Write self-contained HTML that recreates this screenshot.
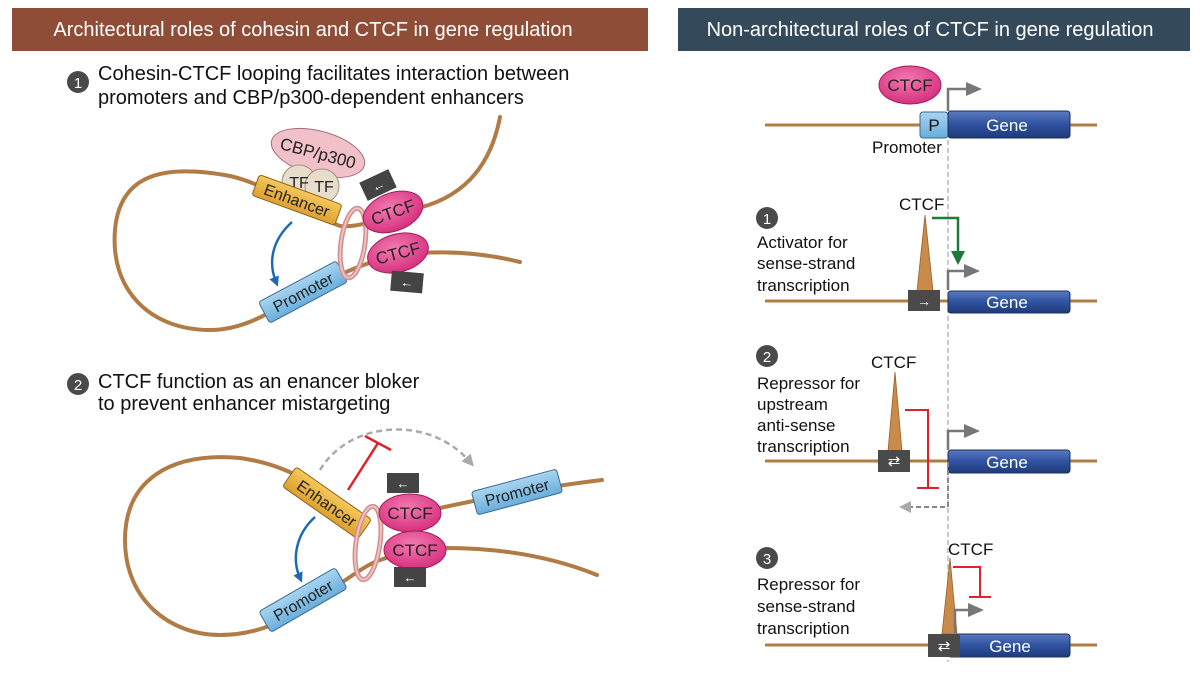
<!DOCTYPE html>
<html><head><meta charset="utf-8"><style>
html,body{margin:0;padding:0;background:#fff;}
svg{display:block;font-family:"Liberation Sans",Arial,sans-serif;}
</style></head><body>
<svg width="1200" height="678" viewBox="0 0 1200 678" xmlns="http://www.w3.org/2000/svg">
<defs>
<linearGradient id="gene" x1="0" y1="0" x2="0" y2="1"><stop offset="0" stop-color="#5a7ac0"/><stop offset="0.5" stop-color="#2f52a0"/><stop offset="1" stop-color="#1f3a78"/></linearGradient>
<radialGradient id="ctcf" cx="0.45" cy="0.35" r="0.7"><stop offset="0" stop-color="#f27ab0"/><stop offset="1" stop-color="#d42a7a"/></radialGradient>
<linearGradient id="enh" x1="0" y1="0" x2="0" y2="1"><stop offset="0" stop-color="#f6c85a"/><stop offset="1" stop-color="#dca030"/></linearGradient>
<linearGradient id="pro" x1="0" y1="0" x2="0" y2="1"><stop offset="0" stop-color="#a8d4f0"/><stop offset="1" stop-color="#6aaedc"/></linearGradient>
<marker id="ab" markerWidth="10" markerHeight="10" refX="5" refY="5" orient="auto" markerUnits="userSpaceOnUse"><path d="M0,0 L10,5 L0,10 Z" fill="#1a6ab8"/></marker>
<marker id="agr" markerWidth="14" markerHeight="14" refX="7" refY="7" orient="auto" markerUnits="userSpaceOnUse"><path d="M0,0 L14,7 L0,14 Z" fill="#1d7a3a"/></marker>
<marker id="agray" markerWidth="16" markerHeight="14" refX="4" refY="7" orient="auto" markerUnits="userSpaceOnUse"><path d="M0,0 L16,7 L0,14 Z" fill="#777"/></marker>
<marker id="agl" markerWidth="12" markerHeight="12" refX="6" refY="6" orient="auto" markerUnits="userSpaceOnUse"><path d="M0,0 L12,6 L0,12 Z" fill="#aaa"/></marker>
</defs>

<rect x="12" y="8" width="636" height="43" fill="#8f4c36"/>
<text x="313" y="36" font-size="20" fill="#fff" text-anchor="middle">Architectural roles of cohesin and CTCF in gene regulation</text>
<rect x="678" y="8" width="512" height="43" fill="#34495a"/>
<text x="930" y="36" font-size="20" fill="#fff" text-anchor="middle">Non-architectural roles of CTCF in gene regulation</text>

<circle cx="78" cy="82" r="11" fill="#4a4a4a"/><text x="78" y="88" font-size="15" fill="#fff" text-anchor="middle">1</text>
<text x="98" y="80" font-size="20" fill="#111">Cohesin-CTCF looping facilitates interaction between</text>
<text x="98" y="104" font-size="20" fill="#111">promoters and CBP/p300-dependent enhancers</text>

<g fill="none" stroke="#b07b45" stroke-width="4" stroke-linecap="round">
<path d="M500,117 C490,170 460,200 410,210 C380,218 360,228 340,226 C310,215 270,185 230,176 C170,165 120,170 115,230 C110,290 150,330 210,330 C250,330 280,305 320,285 C345,272 365,262 400,255 C440,250 480,252 520,262"/>
</g>
<ellipse cx="318" cy="153" rx="48" ry="22" transform="rotate(15 318 153)" fill="#f2c0c8" stroke="#a07080" stroke-width="1"/>
<text x="318" y="159" font-size="17" text-anchor="middle" transform="rotate(15 318 153)" fill="#222">CBP/p300</text>
<circle cx="299" cy="182" r="17" fill="#e8dccb" stroke="#a09080"/>
<circle cx="322" cy="186" r="17" fill="#e8dccb" stroke="#a09080"/>
<text x="299" y="188" font-size="16" text-anchor="middle" fill="#222">TF</text>
<text x="324" y="192" font-size="16" text-anchor="middle" fill="#222">TF</text>
<g transform="rotate(20 297 200)"><rect x="253" y="189" width="88" height="22" rx="3" fill="url(#enh)" stroke="#8a6420"/><text x="297" y="206" font-size="16" text-anchor="middle" fill="#222">Enhancer</text></g>
<g transform="rotate(-28 303 292)"><rect x="259" y="280" width="88" height="24" rx="3" fill="url(#pro)" stroke="#3a6a90"/><text x="303" y="298" font-size="16" text-anchor="middle" fill="#222">Promoter</text></g>
<path d="M292,222 C272,240 268,262 276,282" fill="none" stroke="#1a6ab8" stroke-width="2.5" marker-end="url(#ab)"/>
<ellipse cx="353" cy="243" rx="12" ry="35" transform="rotate(8 353 243)" fill="none" stroke="#d09090" stroke-width="5"/>
<ellipse cx="353" cy="243" rx="12" ry="35" transform="rotate(8 353 243)" fill="none" stroke="#f0c0c0" stroke-width="2"/>
<ellipse cx="393" cy="212" rx="31" ry="19" transform="rotate(-20 393 212)" fill="url(#ctcf)" stroke="#a0205a"/>
<text x="393" y="218" font-size="17" text-anchor="middle" transform="rotate(-20 393 212)" fill="#222">CTCF</text>
<ellipse cx="398" cy="253" rx="31" ry="19" transform="rotate(-15 398 253)" fill="url(#ctcf)" stroke="#a0205a"/>
<text x="398" y="259" font-size="17" text-anchor="middle" transform="rotate(-15 398 253)" fill="#222">CTCF</text>
<g transform="rotate(-25 378 185)"><rect x="362" y="175" width="32" height="20" fill="#444"/><text x="378" y="190" font-size="13" fill="#fff" text-anchor="middle">←</text></g>
<g transform="rotate(5 407 282)"><rect x="391" y="272" width="32" height="20" fill="#444"/><text x="407" y="287" font-size="13" fill="#fff" text-anchor="middle">←</text></g>

<circle cx="78" cy="384" r="11" fill="#4a4a4a"/><text x="78" y="390" font-size="15" fill="#fff" text-anchor="middle">2</text>
<text x="98" y="388" font-size="20" fill="#111">CTCF function as an enancer bloker</text>
<text x="98" y="410" font-size="20" fill="#111">to prevent enhancer mistargeting</text>

<g fill="none" stroke="#b07b45" stroke-width="4" stroke-linecap="round">
<path d="M355,525 C330,490 290,465 240,458 C170,452 125,480 125,540 C125,600 170,635 220,635 C270,635 300,610 330,590 C350,578 365,565 380,560 C400,553 420,550 445,548 C510,548 560,560 597,575"/>
<path d="M440,508 C500,495 560,485 602,480"/>
</g>
<path d="M320,470 C350,420 430,415 470,462" fill="none" stroke="#aaa" stroke-width="2.5" stroke-dasharray="6,4" marker-end="url(#agl)"/>
<line x1="348" y1="490" x2="378" y2="443" stroke="#e0202a" stroke-width="2.5"/>
<line x1="365" y1="436" x2="391" y2="450" stroke="#e0202a" stroke-width="2.5"/>
<g transform="rotate(35 327 503)"><rect x="281" y="491" width="92" height="24" rx="3" fill="url(#enh)" stroke="#8a6420"/><text x="327" y="509" font-size="16" text-anchor="middle" fill="#222">Enhancer</text></g>
<g transform="rotate(-30 303 600)"><rect x="259" y="588" width="88" height="24" rx="3" fill="url(#pro)" stroke="#3a6a90"/><text x="303" y="606" font-size="16" text-anchor="middle" fill="#222">Promoter</text></g>
<g transform="rotate(-15 517 492)"><rect x="473" y="480" width="88" height="24" rx="3" fill="url(#pro)" stroke="#3a6a90"/><text x="517" y="498" font-size="16" text-anchor="middle" fill="#222">Promoter</text></g>
<path d="M315,517 C295,535 292,560 300,578" fill="none" stroke="#1a6ab8" stroke-width="2.5" marker-end="url(#ab)"/>
<ellipse cx="368" cy="543" rx="12" ry="37" transform="rotate(8 368 543)" fill="none" stroke="#d09090" stroke-width="5"/>
<ellipse cx="368" cy="543" rx="12" ry="37" transform="rotate(8 368 543)" fill="none" stroke="#f0c0c0" stroke-width="2"/>
<ellipse cx="410" cy="513" rx="31" ry="19" fill="url(#ctcf)" stroke="#a0205a"/>
<text x="410" y="519" font-size="17" text-anchor="middle" fill="#222">CTCF</text>
<ellipse cx="415" cy="550" rx="31" ry="19" fill="url(#ctcf)" stroke="#a0205a"/>
<text x="415" y="556" font-size="17" text-anchor="middle" fill="#222">CTCF</text>
<rect x="387" y="473" width="32" height="20" fill="#444"/><text x="403" y="488" font-size="13" fill="#fff" text-anchor="middle">←</text>
<rect x="394" y="567" width="32" height="20" fill="#444"/><text x="410" y="582" font-size="13" fill="#fff" text-anchor="middle">←</text>

<line x1="948" y1="140" x2="948" y2="662" stroke="#aaa" stroke-width="1.2" stroke-dasharray="5,3"/>

<line x1="765" y1="125" x2="1097" y2="125" stroke="#b07b45" stroke-width="3"/>
<ellipse cx="910" cy="85" rx="31" ry="19" fill="url(#ctcf)" stroke="#a0205a"/>
<text x="910" y="91" font-size="17" text-anchor="middle" fill="#222">CTCF</text>
<rect x="920" y="112" width="28" height="26" rx="3" fill="url(#pro)" stroke="#3a6a90"/>
<text x="934" y="131" font-size="17" text-anchor="middle" fill="#111">P</text>
<rect x="948" y="111" width="122" height="27" rx="3" fill="url(#gene)" stroke="#1a2f60"/>
<text x="1007" y="131" font-size="17" text-anchor="middle" fill="#fff">Gene</text>
<path d="M948,111 L948,89 L970,89" fill="none" stroke="#777" stroke-width="2.5" marker-end="url(#agray)"/>
<text x="872" y="153" font-size="17" fill="#111">Promoter</text>

<circle cx="767" cy="218" r="11" fill="#4a4a4a"/><text x="767" y="224" font-size="15" fill="#fff" text-anchor="middle">1</text>
<text x="899" y="210" font-size="17" fill="#111">CTCF</text>
<text x="757" y="248" font-size="17" fill="#111">Activator for</text>
<text x="757" y="269" font-size="17" fill="#111">sense-strand</text>
<text x="757" y="291" font-size="17" fill="#111">transcription</text>
<line x1="765" y1="301" x2="1097" y2="301" stroke="#b07b45" stroke-width="3"/>
<polygon points="917,291 933,291 925,215" fill="#c98a4a" stroke="#9a6030" stroke-width="0.8"/>
<rect x="908" y="290" width="32" height="21" fill="#4a4a4a"/><text x="924" y="306" font-size="14" fill="#fff" text-anchor="middle">→</text>
<rect x="948" y="291" width="122" height="22" rx="3" fill="url(#gene)" stroke="#1a2f60"/>
<text x="1007" y="308" font-size="17" text-anchor="middle" fill="#fff">Gene</text>
<path d="M932,218 L958,218 L958,258" fill="none" stroke="#1d7a3a" stroke-width="2.5" marker-end="url(#agr)"/>
<path d="M948,290 L948,271 L968,271" fill="none" stroke="#777" stroke-width="2.5" marker-end="url(#agray)"/>

<circle cx="767" cy="356" r="11" fill="#4a4a4a"/><text x="767" y="362" font-size="15" fill="#fff" text-anchor="middle">2</text>
<text x="871" y="368" font-size="17" fill="#111">CTCF</text>
<text x="757" y="389" font-size="17" fill="#111">Repressor for</text>
<text x="757" y="410" font-size="17" fill="#111">upstream</text>
<text x="757" y="431" font-size="17" fill="#111">anti-sense</text>
<text x="757" y="452" font-size="17" fill="#111">transcription</text>
<line x1="765" y1="461" x2="1097" y2="461" stroke="#b07b45" stroke-width="3"/>
<polygon points="888,451 902,451 895,372" fill="#c98a4a" stroke="#9a6030" stroke-width="0.8"/>
<rect x="878" y="450" width="32" height="22" fill="#4a4a4a"/><text x="894" y="466" font-size="15" fill="#fff" text-anchor="middle">⇄</text>
<rect x="948" y="450" width="122" height="23" rx="3" fill="url(#gene)" stroke="#1a2f60"/>
<text x="1007" y="468" font-size="17" text-anchor="middle" fill="#fff">Gene</text>
<path d="M905,410 L928,410 L928,488" fill="none" stroke="#e0202a" stroke-width="2"/>
<line x1="917" y1="488" x2="939" y2="488" stroke="#e0202a" stroke-width="2"/>
<path d="M948,450 L948,431 L968,431" fill="none" stroke="#777" stroke-width="2.5" marker-end="url(#agray)"/>
<path d="M948,462 L948,507 L905,507" fill="none" stroke="#888" stroke-width="2" stroke-dasharray="5,3" marker-end="url(#agl)"/>

<circle cx="767" cy="558" r="11" fill="#4a4a4a"/><text x="767" y="564" font-size="15" fill="#fff" text-anchor="middle">3</text>
<text x="948" y="555" font-size="17" fill="#111">CTCF</text>
<text x="757" y="590" font-size="17" fill="#111">Repressor for</text>
<text x="757" y="612" font-size="17" fill="#111">sense-strand</text>
<text x="757" y="634" font-size="17" fill="#111">transcription</text>
<line x1="765" y1="645" x2="1097" y2="645" stroke="#b07b45" stroke-width="3"/>
<rect x="948" y="634" width="122" height="23" rx="3" fill="url(#gene)" stroke="#1a2f60"/>
<text x="1010" y="652" font-size="17" text-anchor="middle" fill="#fff">Gene</text>
<polygon points="942,634 957,634 950,558" fill="#c98a4a" stroke="#9a6030" stroke-width="0.8"/>
<rect x="928" y="634" width="32" height="23" fill="#4a4a4a"/><text x="944" y="651" font-size="15" fill="#fff" text-anchor="middle">⇄</text>
<path d="M953,567 L980,567 L980,597" fill="none" stroke="#e0202a" stroke-width="2"/>
<line x1="969" y1="597" x2="991" y2="597" stroke="#e0202a" stroke-width="2"/>
<path d="M955,633 L955,610 L972,610" fill="none" stroke="#777" stroke-width="2.5" marker-end="url(#agray)"/>
</svg>
</body></html>
